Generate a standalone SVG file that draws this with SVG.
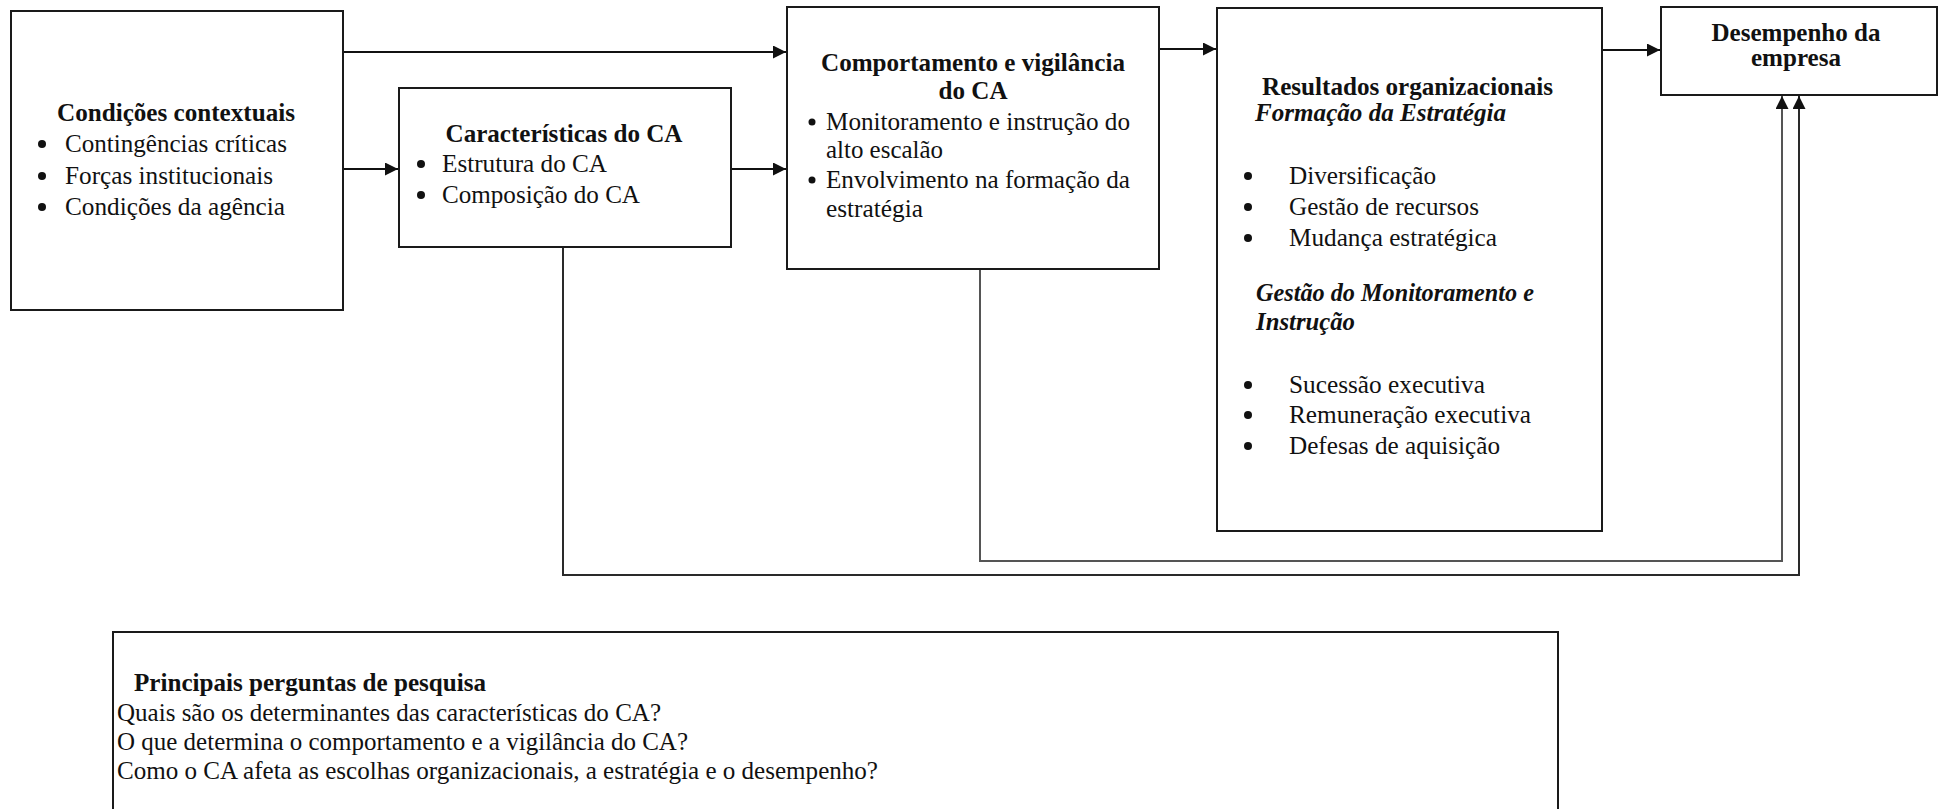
<svg xmlns="http://www.w3.org/2000/svg" width="1941" height="809" viewBox="0 0 1941 809" font-family="'Liberation Serif', 'Times New Roman', 'DejaVu Serif', serif">
<style>
  .box { fill: #ffffff; stroke: #1a1a1a; stroke-width: 2; }
  .t { font-family: 'Liberation Serif', 'Times New Roman', 'DejaVu Serif', serif; font-size: 25px; fill: #111; }
  .b { font-weight: bold; }
  .bi { font-weight: bold; font-style: italic; }
  .mid { text-anchor: middle; }
  .dot { fill: #111; }
  .conn { fill: none; stroke: #111; stroke-width: 2; }
  .connA { fill: none; stroke: #2a2a2a; stroke-width: 2; }
  .connB { fill: none; stroke: #555; stroke-width: 2; }
</style>
<defs>
  <marker id="ah" markerUnits="userSpaceOnUse" markerWidth="14" markerHeight="13" refX="13" refY="6.5" orient="auto">
    <path d="M0,0 L13,6.5 L0,13 z" fill="#111"/>
  </marker>
</defs>
<rect width="1941" height="809" fill="#ffffff"/>

<g id="connectors">
  <line class="conn" x1="344" y1="52" x2="786" y2="52" marker-end="url(#ah)"/>
  <line class="conn" x1="344" y1="169" x2="398" y2="169" marker-end="url(#ah)"/>
  <line class="conn" x1="732" y1="169" x2="786" y2="169" marker-end="url(#ah)"/>
  <line class="conn" x1="1160" y1="49" x2="1216" y2="49" marker-end="url(#ah)"/>
  <line class="conn" x1="1603" y1="50" x2="1660" y2="50" marker-end="url(#ah)"/>
  <path class="connA" d="M563,248 V575 H1799 V96" marker-end="url(#ah)"/>
  <path class="connB" d="M980,270 V561 H1782 V96" marker-end="url(#ah)"/>
</g>

<g id="condicoes">
  <rect class="box" x="11" y="11" width="332" height="299"/>
  <text class="t b mid" x="176" y="121" textLength="238" lengthAdjust="spacingAndGlyphs">Condições contextuais</text>
  <circle class="dot" cx="42" cy="144" r="4"/><text class="t" x="65" y="152" textLength="222" lengthAdjust="spacingAndGlyphs">Contingências críticas</text>
  <circle class="dot" cx="42" cy="176" r="4"/><text class="t" x="65" y="184" textLength="208" lengthAdjust="spacingAndGlyphs">Forças institucionais</text>
  <circle class="dot" cx="42" cy="207" r="4"/><text class="t" x="65" y="215" textLength="220" lengthAdjust="spacingAndGlyphs">Condições da agência</text>
</g>

<g id="caracteristicas">
  <rect class="box" x="399" y="88" width="332" height="159"/>
  <text class="t b mid" x="564" y="142" textLength="237" lengthAdjust="spacingAndGlyphs">Características do CA</text>
  <circle class="dot" cx="421" cy="164" r="4"/><text class="t" x="442" y="172" textLength="165" lengthAdjust="spacingAndGlyphs">Estrutura do CA</text>
  <circle class="dot" cx="421" cy="195" r="4"/><text class="t" x="442" y="203" textLength="198" lengthAdjust="spacingAndGlyphs">Composição do CA</text>
</g>

<g id="comportamento">
  <rect class="box" x="787" y="7" width="372" height="262"/>
  <text class="t b mid" x="973" y="71" textLength="304" lengthAdjust="spacingAndGlyphs">Comportamento e vigilância</text>
  <text class="t b mid" x="973" y="99" textLength="69" lengthAdjust="spacingAndGlyphs">do CA</text>
  <circle class="dot" cx="812" cy="122" r="3.5"/><text class="t" x="826" y="130" textLength="304" lengthAdjust="spacingAndGlyphs">Monitoramento e instrução do</text>
  <text class="t" x="826" y="158" textLength="117" lengthAdjust="spacingAndGlyphs">alto escalão</text>
  <circle class="dot" cx="812" cy="180" r="3.5"/><text class="t" x="826" y="188" textLength="304" lengthAdjust="spacingAndGlyphs">Envolvimento na formação da</text>
  <text class="t" x="826" y="217" textLength="97" lengthAdjust="spacingAndGlyphs">estratégia</text>
</g>

<g id="resultados">
  <rect class="box" x="1217" y="8" width="385" height="523"/>
  <text class="t b" x="1262" y="95" textLength="291" lengthAdjust="spacingAndGlyphs">Resultados organizacionais</text>
  <text class="t bi" x="1255" y="121" textLength="251" lengthAdjust="spacingAndGlyphs">Formação da Estratégia</text>
  <circle class="dot" cx="1248" cy="176" r="4"/><text class="t" x="1289" y="184" textLength="147" lengthAdjust="spacingAndGlyphs">Diversificação</text>
  <circle class="dot" cx="1248" cy="207" r="4"/><text class="t" x="1289" y="215" textLength="190" lengthAdjust="spacingAndGlyphs">Gestão de recursos</text>
  <circle class="dot" cx="1248" cy="238" r="4"/><text class="t" x="1289" y="246" textLength="208" lengthAdjust="spacingAndGlyphs">Mudança estratégica</text>
  <text class="t bi" x="1256" y="301" textLength="278" lengthAdjust="spacingAndGlyphs">Gestão do Monitoramento e</text>
  <text class="t bi" x="1256" y="330" textLength="99" lengthAdjust="spacingAndGlyphs">Instrução</text>
  <circle class="dot" cx="1248" cy="385" r="4"/><text class="t" x="1289" y="393" textLength="196" lengthAdjust="spacingAndGlyphs">Sucessão executiva</text>
  <circle class="dot" cx="1248" cy="415" r="4"/><text class="t" x="1289" y="423" textLength="242" lengthAdjust="spacingAndGlyphs">Remuneração executiva</text>
  <circle class="dot" cx="1248" cy="446" r="4"/><text class="t" x="1289" y="454" textLength="211" lengthAdjust="spacingAndGlyphs">Defesas de aquisição</text>
</g>

<g id="desempenho">
  <rect class="box" x="1661" y="7" width="276" height="88"/>
  <text class="t b mid" x="1796" y="41" textLength="169" lengthAdjust="spacingAndGlyphs">Desempenho da</text>
  <text class="t b mid" x="1796" y="66" textLength="90" lengthAdjust="spacingAndGlyphs">empresa</text>
</g>

<g id="perguntas">
  <rect class="box" x="113" y="632" width="1445" height="220"/>
  <text class="t b" x="134" y="691" textLength="352" lengthAdjust="spacingAndGlyphs">Principais perguntas de pesquisa</text>
  <text class="t" x="117" y="721" textLength="544" lengthAdjust="spacingAndGlyphs">Quais são os determinantes das características do CA?</text>
  <text class="t" x="117" y="750" textLength="571" lengthAdjust="spacingAndGlyphs">O que determina o comportamento e a vigilância do CA?</text>
  <text class="t" x="117" y="779" textLength="761" lengthAdjust="spacingAndGlyphs">Como o CA afeta as escolhas organizacionais, a estratégia e o desempenho?</text>
</g>
</svg>
